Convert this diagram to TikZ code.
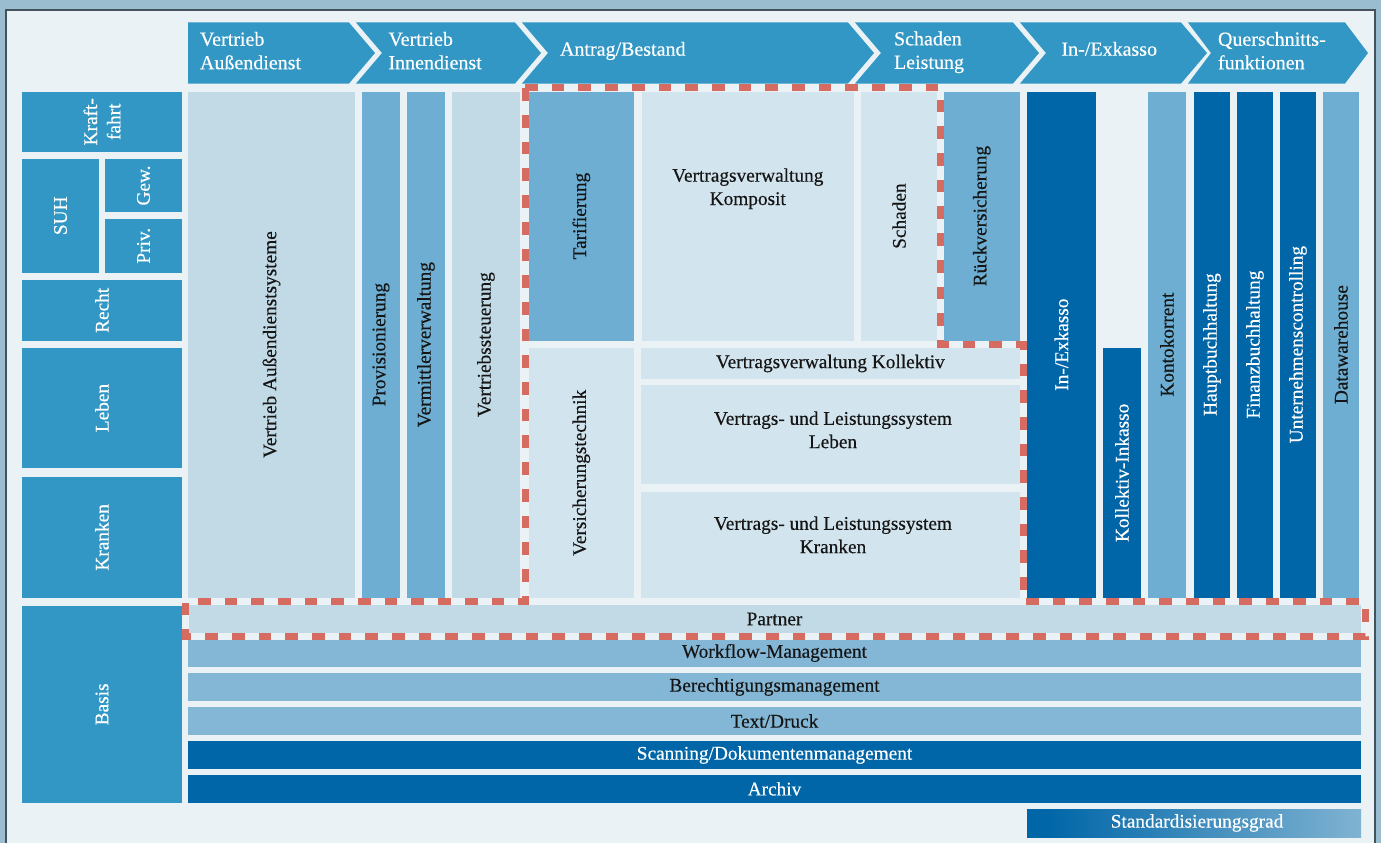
\documentclass[tikz,border=0pt]{standalone}
\usepackage{fontspec}
\setmainfont{Liberation Serif}[UprightFeatures={FakeBold=0.35}]

\definecolor{outerbg}{HTML}{9BBDD0}
\definecolor{panel}{HTML}{EAF2F6}
\definecolor{framegray}{HTML}{44525C}
\definecolor{midblue}{HTML}{3297C4}
\definecolor{paleblue}{HTML}{C2DAE6}
\definecolor{palerblue}{HTML}{D2E4EE}
\definecolor{softblue}{HTML}{6DAED2}
\definecolor{barblue}{HTML}{84B7D6}
\definecolor{deepblue}{HTML}{0066A8}
\definecolor{legendlight}{HTML}{C4DCE8}
\definecolor{dashred}{HTML}{D66B61}
\definecolor{ink}{HTML}{151515}

\newcommand{\headfont}{\fontsize{20}{23.5}\selectfont}
\newcommand{\bodyfont}{\fontsize{19.3}{23.3}\selectfont}

% horizontal shading for the legend bar: solid dark blue, then fading out
\pgfdeclarehorizontalshading{stdgrad}{100bp}{color(0bp)=(deepblue); color(28bp)=(deepblue); color(100bp)=(legendlight)}

% box from corner (x1,y1) to (x2,y2), text horizontal
\newcommand{\hcell}[7]{%
  \node[cell,#6,minimum width={(#4)-(#2)},minimum height={(#5)-(#3)}]
    (#1) at ({((#2)+(#4))/2},{((#3)+(#5))/2}) {#7};}
% same, text rotated to read bottom-up
\newcommand{\vcell}[7]{%
  \node[cell,#6,rotate=90,minimum width={(#5)-(#3)},minimum height={(#4)-(#2)}]
    (#1) at ({((#2)+(#4))/2},{((#3)+(#5))/2}) {#7};}

\tikzset{
  cell/.style={draw=none,inner sep=0pt,outer sep=0pt,align=center,font=\bodyfont,text=ink},
  fillmid/.style={fill=midblue,text=white},
  fillpale/.style={fill=paleblue},
  fillpaler/.style={fill=palerblue},
  fillsoft/.style={fill=softblue},
  fillbar/.style={fill=barblue},
  filldeep/.style={fill=deepblue,text=white},
  headtxt/.style={inner sep=0pt,outer sep=0pt,align=left,font=\headfont,text=white},
  bodytxt/.style={inner sep=0pt,outer sep=0pt,align=center,font=\bodyfont,text=ink},
  scopeline/.style={line width=7pt,line join=miter},
}

\begin{document}
\begin{tikzpicture}[x=1pt,y=-1pt]
\useasboundingbox (0,0) rectangle (1381,843);
\clip (0,0) rectangle (1381,843);

% background and panel
\fill[outerbg] (0,0) rectangle (1381,843);
\filldraw[fill=panel,draw=framegray,line width=1.3pt] (6,10) rectangle (1375,900);

% process chevrons
\fill[midblue] (188,22.5) -- (349,22.5) -- (375,53) -- (349,83.5) -- (188,83.5) -- cycle;
\fill[midblue] (356,22.5) -- (515,22.5) -- (541,53) -- (515,83.5) -- (356,83.5) -- (382,53) -- cycle;
\fill[midblue] (522,22.5) -- (848,22.5) -- (874,53) -- (848,83.5) -- (522,83.5) -- (548,53) -- cycle;
\fill[midblue] (855,22.5) -- (1013,22.5) -- (1039,53) -- (1013,83.5) -- (855,83.5) -- (881,53) -- cycle;
\fill[midblue] (1020,22.5) -- (1181,22.5) -- (1207,53) -- (1181,83.5) -- (1020,83.5) -- (1046,53) -- cycle;
\fill[midblue] (1188,22.5) -- (1345,22.5) -- (1368,53) -- (1345,83.5) -- (1188,83.5) -- (1211,53) -- cycle;

\node[headtxt,anchor=west] (hVA) at (200,52.8) {\strut Vertrieb\\\strut Außendienst};
\node[headtxt,anchor=west] (hVI) at (388.5,52.8) {\strut Vertrieb\\\strut Innendienst};
\node[headtxt,anchor=base west] (hAB) at (560,55.7) {Antrag/Bestand};
\node[headtxt,anchor=west] (hSL) at (894,52.4) {\strut Schaden\\\strut Leistung};
\node[headtxt,anchor=base west] (hIE) at (1061.5,55.7) {In-/Exkasso};
\node[headtxt,anchor=west] (hQF) at (1218,52.8) {\strut Querschnitts-\\\strut funktionen};

% lines of business
\vcell{kraft}{22}{91.5}{182}{152}{fillmid}{Kraft-\\fahrt}
\vcell{suh}{22}{159}{99}{272.5}{fillmid}{SUH}
\vcell{gew}{105}{159}{182}{212}{fillmid}{Gew.}
\vcell{priv}{105}{219}{182}{272.5}{fillmid}{Priv.}
\vcell{recht}{22}{280}{182}{340.7}{fillmid}{Recht}
\vcell{leben}{22}{348}{182}{468}{fillmid}{Leben}
\vcell{kranken}{22}{477}{182}{597.7}{fillmid}{Kranken}
\vcell{basis}{22}{606}{182}{802.7}{fillmid}{Basis}

% sales
\vcell{vad}{188}{91.5}{355}{597.7}{fillpale}{Vertrieb Außendienstsysteme}
\vcell{prov}{362}{91.5}{400}{597.7}{fillsoft}{Provisionierung}
\vcell{verm}{407}{91.5}{445}{597.7}{fillsoft}{Vermittlerverwaltung}
\vcell{vst}{452}{91.5}{520}{597.7}{fillpale}{Vertriebssteuerung}

% application / portfolio and claims
\vcell{tarif}{528.6}{91.5}{634}{340.7}{fillsoft}{Tarifierung}
\hcell{komposit}{642}{91.5}{853.6}{340.7}{fillpaler}{}
\node[bodytxt,anchor=north] (kompositlabel) at (747.8,165.4) {\strut Vertragsverwaltung\\\strut Komposit};
\vcell{schaden}{860.7}{91.5}{937.5}{340.7}{fillpaler}{Schaden}
\vcell{rueck}{944}{91.5}{1019.6}{340.7}{fillsoft}{Rückversicherung}
\vcell{vtech}{528.6}{348}{634}{597.7}{fillpaler}{Versicherungstechnik}
\hcell{kollektiv}{641}{348}{1019.6}{379}{fillpaler}{Vertragsverwaltung Kollektiv}
\hcell{lsleben}{641}{385}{1019.6}{484}{fillpaler}{}
\node[bodytxt] (lslebenlabel) at (833,431.8) {\strut Vertrags- und Leistungssystem\\\strut Leben};
\hcell{lskranken}{641}{492}{1019.6}{597.7}{fillpaler}{}
\node[bodytxt] (lskrankenlabel) at (833,536.8) {\strut Vertrags- und Leistungssystem\\\strut Kranken};

% collection and cross-sectional functions
\vcell{inex}{1027}{91.5}{1096}{597.7}{filldeep}{In-/Exkasso}
\vcell{kollink}{1103}{348}{1141}{597.7}{filldeep}{Kollektiv-Inkasso}
\vcell{konto}{1148}{91.5}{1186}{597.7}{fillsoft}{Kontokorrent}
\vcell{haupt}{1194}{91.5}{1230}{597.7}{filldeep}{Hauptbuchhaltung}
\vcell{finanz}{1237}{91.5}{1273}{597.7}{filldeep}{Finanzbuchhaltung}
\vcell{ucontr}{1280}{91.5}{1316}{597.7}{filldeep}{Unternehmenscontrolling}
\vcell{dwh}{1323}{91.5}{1359}{597.7}{fillsoft}{Datawarehouse}

% base services
\hcell{partner}{188}{605}{1361}{633}{fillpale}{Partner}
\hcell{workflow}{188}{639}{1361}{667}{fillbar}{Workflow-Management}
\hcell{berecht}{188}{673}{1361}{701}{fillbar}{Berechtigungsmanagement}
\hcell{druck}{188}{707}{1361}{735}{fillbar}{Text/Druck}
\hcell{scan}{188}{741}{1361}{769}{filldeep}{Scanning/Dokumentenmanagement}
\hcell{archiv}{188}{775}{1361}{802.7}{filldeep}{Archiv}

% scope outline
\draw[scopeline,draw=panel]
  (525,87.7) -- (940.3,87.7) -- (940.3,344.3) -- (1023.5,344.3) -- (1023.5,601.5)
  -- (1365.5,601.5) -- (1365.5,636) -- (185,636) -- (185,601.5) -- (525,601.5) -- cycle;
\draw[scopeline,draw=dashred,dash pattern=on 12.7pt off 14pt]
  (525,87.7) -- (940.3,87.7) -- (940.3,344.3) -- (1023.5,344.3) -- (1023.5,601.5)
  -- (1365.5,601.5) -- (1365.5,636) -- (185,636) -- (185,601.5) -- (525,601.5) -- cycle;

% legend
\node[cell,shading=stdgrad,text=white,minimum width=334pt,minimum height=28pt]
  (legend) at (1194,823) {\hspace*{6pt}Standardisierungsgrad};
\end{tikzpicture}
\end{document}
